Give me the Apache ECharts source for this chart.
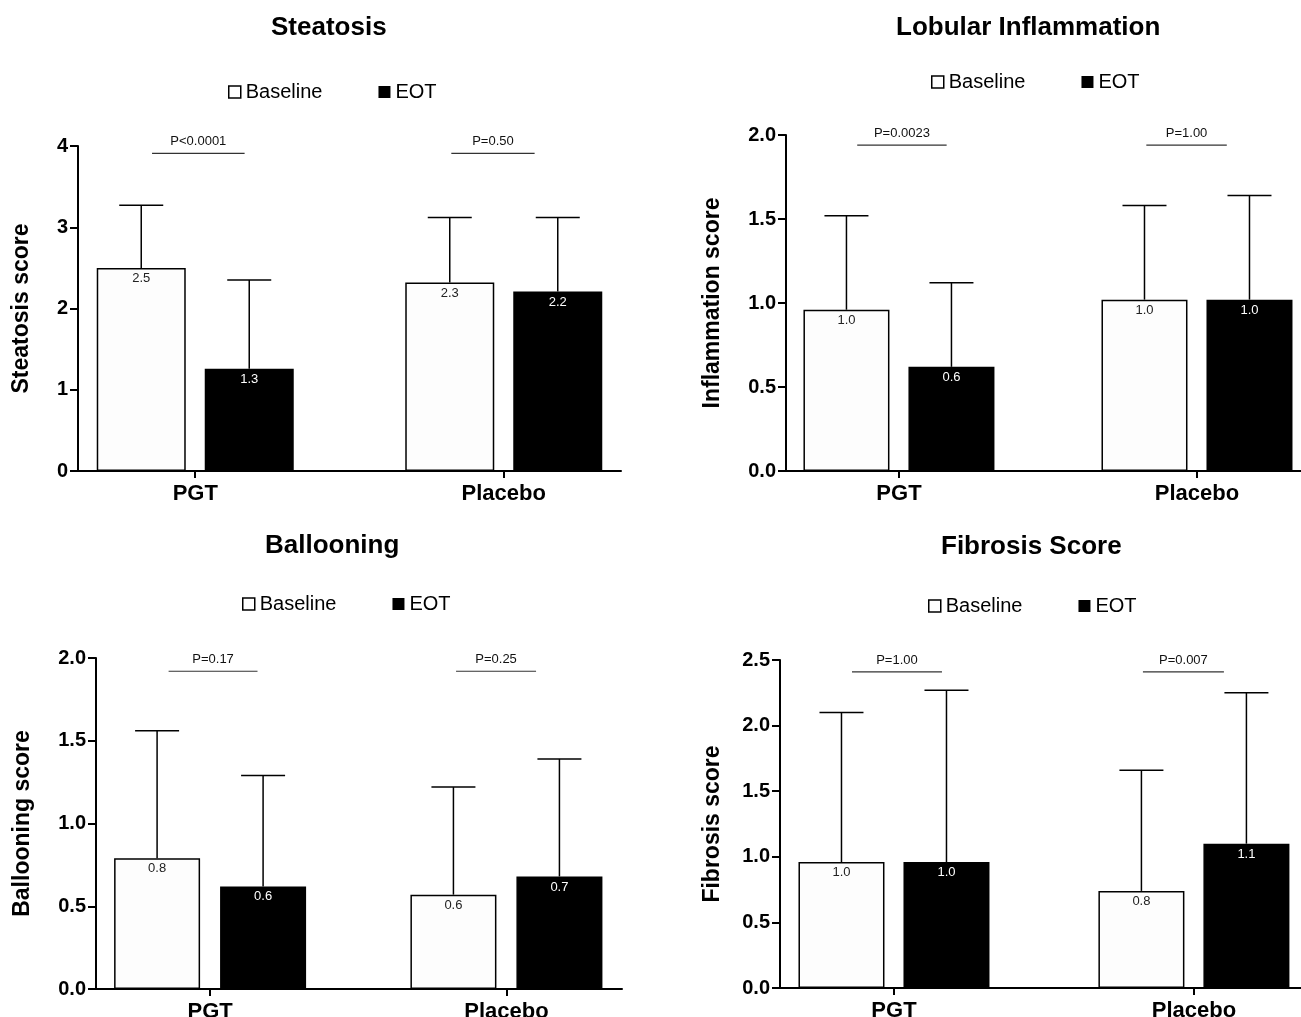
<!DOCTYPE html>
<html>
<head>
<meta charset="utf-8">
<title>Histology scores</title>
<script src="https://cdn.jsdelivr.net/npm/echarts@6.0.0/dist/echarts.min.js"></script>
<style>
html, body { margin: 0; padding: 0; background: #fff; }
#main { width: 1301px; height: 1017px; }
</style>
</head>
<body>
<div id="main"></div>
<script>
var categories = ['PGT', 'Placebo'];
var seriesNames = ['Baseline', 'EOT'];

// Steatosis
var steatosisBaseline = [2.50, 2.32];
var steatosisBaselineSD = [0.77, 0.80];
var steatosisEOT = [1.26, 2.21];
var steatosisEOTSD = [1.09, 0.91];
var steatosisBaselineLabels = ['2.5', '2.3'];
var steatosisEOTLabels = ['1.3', '2.2'];
var steatosisP = ['P<0.0001', 'P=0.50'];

// Lobular inflammation
var inflammationBaseline = [0.96, 1.02];
var inflammationBaselineSD = [0.56, 0.56];
var inflammationEOT = [0.62, 1.02];
var inflammationEOTSD = [0.50, 0.62];
var inflammationBaselineLabels = ['1.0', '1.0'];
var inflammationEOTLabels = ['0.6', '1.0'];
var inflammationP = ['P=0.0023', 'P=1.00'];

// Ballooning
var ballooningBaseline = [0.79, 0.57];
var ballooningBaselineSD = [0.77, 0.65];
var ballooningEOT = [0.62, 0.68];
var ballooningEOTSD = [0.67, 0.71];
var ballooningBaselineLabels = ['0.8', '0.6'];
var ballooningEOTLabels = ['0.6', '0.7'];
var ballooningP = ['P=0.17', 'P=0.25'];

// Fibrosis
var fibrosisBaseline = [0.96, 0.74];
var fibrosisBaselineSD = [1.14, 0.92];
var fibrosisEOT = [0.96, 1.10];
var fibrosisEOTSD = [1.31, 1.15];
var fibrosisBaselineLabels = ['1.0', '0.8'];
var fibrosisEOTLabels = ['1.0', '1.1'];
var fibrosisP = ['P=1.00', 'P=0.007'];

var panels = [
    {title: 'Steatosis', yName: 'Steatosis score', yMax: 4, yStep: 1, pLevel: 3.91,
     base: steatosisBaseline, baseSD: steatosisBaselineSD, eot: steatosisEOT, eotSD: steatosisEOTSD,
     baseLabels: steatosisBaselineLabels, eotLabels: steatosisEOTLabels, p: steatosisP},
    {title: 'Lobular Inflammation', yName: 'Inflammation score', yMax: 2, yStep: 0.5, pLevel: 1.94,
     base: inflammationBaseline, baseSD: inflammationBaselineSD, eot: inflammationEOT, eotSD: inflammationEOTSD,
     baseLabels: inflammationBaselineLabels, eotLabels: inflammationEOTLabels, p: inflammationP},
    {title: 'Ballooning', yName: 'Ballooning score', yMax: 2, yStep: 0.5, pLevel: 1.92,
     base: ballooningBaseline, baseSD: ballooningBaselineSD, eot: ballooningEOT, eotSD: ballooningEOTSD,
     baseLabels: ballooningBaselineLabels, eotLabels: ballooningEOTLabels, p: ballooningP},
    {title: 'Fibrosis Score', yName: 'Fibrosis score', yMax: 2.5, yStep: 0.5, pLevel: 2.41,
     base: fibrosisBaseline, baseSD: fibrosisBaselineSD, eot: fibrosisEOT, eotSD: fibrosisEOTSD,
     baseLabels: fibrosisBaselineLabels, eotLabels: fibrosisEOTLabels, p: fibrosisP}
];

// where each panel sits on the page
var layouts = [
    {grid: {left: 78, top: 146, width: 543, height: 325}, xMin: 0.62, xMax: 2.38, barWidth: 89, gap: 19,
     nameGap: 45, titlePos: {left: 271, top: 15}, legendPos: {left: 228, top: 82}},
    {grid: {left: 786, top: 135, width: 515, height: 336}, xMin: 0.621, xMax: 2.349, barWidth: 86, gap: 19,
     nameGap: 62, titlePos: {left: 896, top: 15}, legendPos: {left: 931, top: 72}},
    {grid: {left: 96, top: 658, width: 526, height: 331}, xMin: 0.615, xMax: 2.39, barWidth: 86, gap: 20,
     nameGap: 62, titlePos: {left: 265, top: 533}, legendPos: {left: 242, top: 594}},
    {grid: {left: 780, top: 660, width: 521, height: 328}, xMin: 0.62, xMax: 2.357, barWidth: 86, gap: 19,
     nameGap: 56, titlePos: {left: 941, top: 534}, legendPos: {left: 928, top: 596}}
];
var bracketX = [[0.86, 1.16], [1.83, 2.10]];

var boldFont = 'Liberation Sans';

function errorBarRenderer(offset) {
    return function (params, api) {
        var base = api.coord([api.value(0), api.value(1)]);
        var top = api.coord([api.value(0), api.value(2)]);
        var x = base[0] + offset;
        var half = 22;
        return {
            type: 'group',
            children: [
                {type: 'line', shape: {x1: x, y1: base[1], x2: x, y2: top[1]}, style: {stroke: '#000', lineWidth: 1.5}},
                {type: 'line', shape: {x1: x - half, y1: top[1], x2: x + half, y2: top[1]}, style: {stroke: '#000', lineWidth: 1.5}}
            ]
        };
    };
}

function bracketRenderer(texts) {
    return function (params, api) {
        var a = api.coord([api.value(0), api.value(2)]);
        var b = api.coord([api.value(1), api.value(2)]);
        return {
            type: 'group',
            children: [
                {type: 'line', shape: {x1: a[0], y1: a[1], x2: b[0], y2: b[1]}, style: {stroke: '#333', lineWidth: 1.2}},
                {type: 'text', style: {text: texts[params.dataIndex], x: (a[0] + b[0]) / 2, y: a[1] - 5,
                    textAlign: 'center', textVerticalAlign: 'bottom', fill: '#111',
                    font: '13px "Liberation Sans", Arial, sans-serif'}}
            ]
        };
    };
}

var option = {
    backgroundColor: '#fff',
    animation: false,
    title: [], legend: [], grid: [], xAxis: [], yAxis: [], series: []
};

panels.forEach(function (pn, i) {
    var lay = layouts[i];
    var shift = (lay.barWidth + lay.gap) / 2;

    option.title.push({
        text: pn.title, left: lay.titlePos.left, top: lay.titlePos.top, padding: 0,
        textStyle: {fontFamily: boldFont, fontSize: 26, fontWeight: 'bold', color: '#000'}
    });
    option.legend.push({
        left: lay.legendPos.left, top: lay.legendPos.top, padding: 0,
        itemWidth: 12, itemHeight: 12, itemGap: 56,
        textStyle: {fontFamily: boldFont, fontSize: 20, color: '#000'},
        data: [
            {name: 'Baseline', icon: 'rect', itemStyle: {color: '#fff', borderColor: '#000', borderWidth: 1.5}},
            {name: 'EOT', icon: 'rect', itemStyle: {color: '#000', borderWidth: 0}}
        ]
    });
    // keep the grid where it is, labels may hang past the page edge
    option.grid.push(echarts.util.extend({outerBoundsMode: 'none', containLabel: false}, lay.grid));
    option.xAxis.push({
        type: 'value', gridIndex: i, min: lay.xMin, max: lay.xMax,
        axisLine: {show: true, onZero: false, lineStyle: {color: '#000', width: 2}},
        axisTick: {show: true, customValues: [1, 2], length: 7, lineStyle: {color: '#000', width: 2}},
        axisLabel: {
            customValues: [1, 2], margin: 12,
            fontFamily: boldFont, fontSize: 22, fontWeight: 'bold', color: '#000',
            formatter: function (v) { return categories[Math.round(v) - 1] || ''; }
        },
        splitLine: {show: false}
    });
    option.yAxis.push({
        type: 'value', gridIndex: i, min: 0, max: pn.yMax, interval: pn.yStep,
        name: pn.yName, nameLocation: 'middle', nameGap: lay.nameGap, nameRotate: 90,
        nameTextStyle: {fontFamily: boldFont, fontSize: 23, fontWeight: 'bold', color: '#000'},
        axisLine: {show: true, onZero: false, lineStyle: {color: '#000', width: 2}},
        axisTick: {show: true, length: 8, lineStyle: {color: '#000', width: 2}},
        axisLabel: {
            margin: 10, fontFamily: boldFont, fontSize: 20, fontWeight: 'bold', color: '#000',
            formatter: function (v) { return pn.yStep >= 1 ? String(v) : v.toFixed(1); }
        },
        splitLine: {show: false}
    });

    var baseLabels = pn.baseLabels, eotLabels = pn.eotLabels;
    option.series.push({
        name: 'Baseline', type: 'bar', xAxisIndex: i, yAxisIndex: i,
        barWidth: lay.barWidth, barGap: (lay.gap / lay.barWidth * 100) + '%',
        itemStyle: {color: '#fdfdfd', borderColor: '#000', borderWidth: 1.5},
        label: {show: true, position: 'insideTop', distance: 4, fontSize: 13, color: '#222',
            fontFamily: boldFont, formatter: function (p) { return baseLabels[p.dataIndex]; }},
        data: categories.map(function (c, j) { return [j + 1, pn.base[j]]; })
    });
    option.series.push({
        name: 'EOT', type: 'bar', xAxisIndex: i, yAxisIndex: i,
        barWidth: lay.barWidth, barGap: (lay.gap / lay.barWidth * 100) + '%',
        itemStyle: {color: '#000', borderColor: '#000', borderWidth: 1.5},
        label: {show: true, position: 'insideTop', distance: 4, fontSize: 13, color: '#fff',
            fontFamily: boldFont, formatter: function (p) { return eotLabels[p.dataIndex]; }},
        data: categories.map(function (c, j) { return [j + 1, pn.eot[j]]; })
    });
    // upper error bars (mean + SD)
    option.series.push({
        type: 'custom', xAxisIndex: i, yAxisIndex: i, silent: true, z: 3,
        renderItem: errorBarRenderer(-shift), encode: {x: 0, y: [1, 2]},
        data: categories.map(function (c, j) { return [j + 1, pn.base[j], pn.base[j] + pn.baseSD[j]]; })
    });
    option.series.push({
        type: 'custom', xAxisIndex: i, yAxisIndex: i, silent: true, z: 3,
        renderItem: errorBarRenderer(shift), encode: {x: 0, y: [1, 2]},
        data: categories.map(function (c, j) { return [j + 1, pn.eot[j], pn.eot[j] + pn.eotSD[j]]; })
    });
    // p-value brackets
    option.series.push({
        type: 'custom', xAxisIndex: i, yAxisIndex: i, silent: true,
        renderItem: bracketRenderer(pn.p), encode: {x: [0, 1], y: 2},
        data: bracketX.map(function (b) { return [b[0], b[1], pn.pLevel]; })
    });
});

var myChart = echarts.init(document.getElementById('main'));
myChart.setOption(option);
</script>
</body>
</html>
